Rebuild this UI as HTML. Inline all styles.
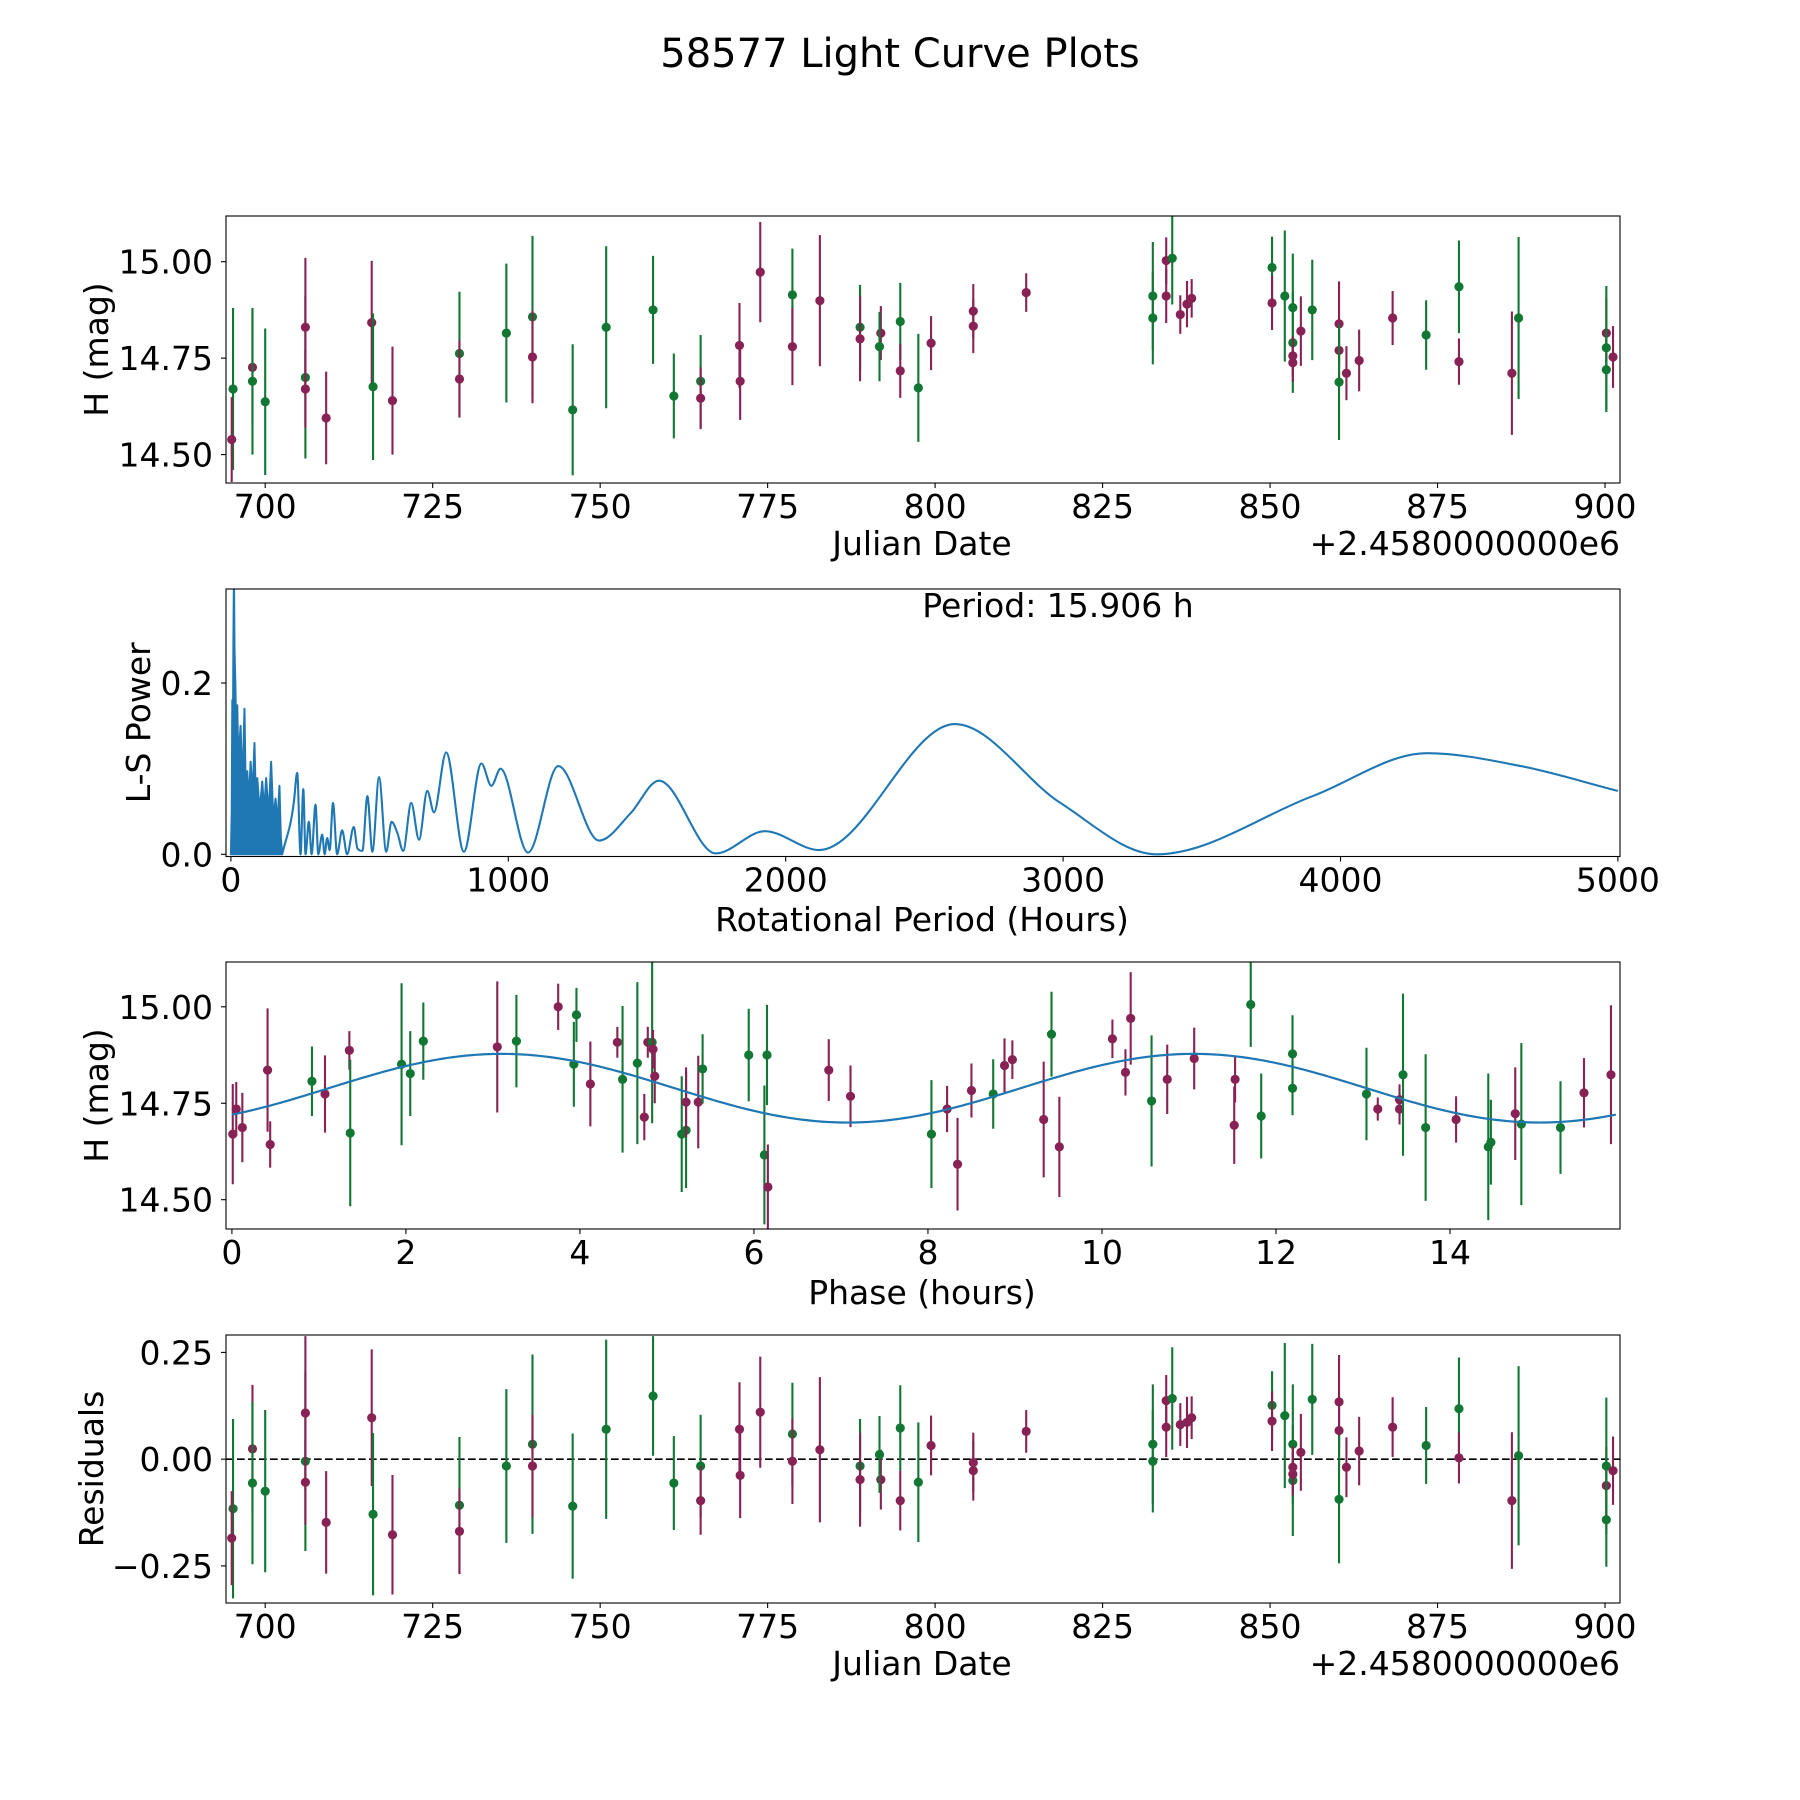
<!DOCTYPE html>
<html><head><meta charset="utf-8"><style>
html,body{margin:0;padding:0;background:#fff;}
svg{display:block;font-family:"DejaVu Sans","Liberation Sans",sans-serif;}
</style></head><body>
<svg id="fig" width="1800" height="1800" viewBox="0 0 1800 1800" xmlns="http://www.w3.org/2000/svg">
<rect width="1800" height="1800" fill="#fff"/>
<text x="900" y="67" font-size="40" text-anchor="middle">58577 Light Curve Plots</text>
</svg>
<script>
// ---------- data: light curve (Julian date offset, H mag, error, group) ----------
const dates=[695.2,695.0,698.1,698.1,700.0,706.0,706.0,706.0,709.1,715.9,716.1,719.0,729.0,729.0,736.0,739.9,739.9,745.9,750.9,757.9,761.0,765.0,765.0,770.8,770.9,773.9,778.7,778.7,782.8,788.8,788.8,791.9,791.7,794.8,794.8,797.5,799.4,805.7,805.7,813.6,832.5,832.5,834.5,834.5,835.4,836.6,837.6,838.3,850.3,850.3,852.2,853.4,853.4,853.4,853.4,854.6,856.3,860.3,860.3,860.3,861.4,863.3,868.3,873.3,878.2,878.2,886.1,887.1,900.2,900.2,900.2,901.2];
const mags=[14.670,14.539,14.726,14.690,14.637,14.700,14.670,14.830,14.595,14.842,14.676,14.640,14.762,14.696,14.815,14.857,14.753,14.616,14.830,14.875,14.652,14.690,14.646,14.783,14.690,14.973,14.914,14.780,14.899,14.830,14.800,14.815,14.780,14.845,14.717,14.673,14.789,14.872,14.833,14.920,14.911,14.854,15.003,14.911,15.009,14.863,14.890,14.905,14.985,14.893,14.911,14.881,14.790,14.756,14.738,14.820,14.875,14.839,14.770,14.688,14.711,14.744,14.854,14.810,14.935,14.741,14.711,14.854,14.815,14.777,14.720,14.753];
const errs=[0.21,0.11,0.15,0.19,0.19,0.21,0.10,0.18,0.12,0.16,0.19,0.14,0.16,0.10,0.18,0.21,0.12,0.17,0.21,0.14,0.11,0.12,0.08,0.11,0.10,0.13,0.12,0.10,0.17,0.11,0.11,0.07,0.09,0.10,0.07,0.14,0.07,0.07,0.07,0.05,0.14,0.12,0.06,0.07,0.12,0.05,0.06,0.05,0.08,0.07,0.17,0.14,0.13,0.05,0.05,0.09,0.13,0.11,0.08,0.15,0.07,0.08,0.07,0.09,0.12,0.06,0.16,0.21,0.09,0.16,0.11,0.08];
const groups="GPPGGGPPPPGPGPGGPGGGGGPPPPGPPGPPGGPGPPPPGGPPGPPPGPGGGPPPGPPGPPPGGPPGPGGP".split("");
const resid=[-0.116,-0.185,0.024,-0.056,-0.075,-0.005,-0.054,0.108,-0.148,0.097,-0.129,-0.177,-0.108,-0.169,-0.016,0.035,-0.016,-0.11,0.07,0.148,-0.056,-0.016,-0.097,0.07,-0.038,0.11,0.059,-0.005,0.022,-0.016,-0.048,-0.048,0.011,0.073,-0.097,-0.054,0.032,-0.008,-0.027,0.065,0.035,-0.005,0.137,0.075,0.142,0.081,0.086,0.097,0.126,0.089,0.102,0.035,-0.05,-0.019,-0.035,0.016,0.14,0.134,0.067,-0.094,-0.019,0.019,0.075,0.032,0.118,0.003,-0.097,0.008,-0.062,-0.016,-0.142,-0.027];
// ---------- data: phased curve ----------
const phases=[0.01,0.05,0.12,0.41,0.44,0.92,1.07,1.35,1.36,1.95,2.05,2.20,3.05,3.27,3.75,3.96,3.93,4.12,4.43,4.49,4.66,4.74,4.78,4.83,4.84,4.86,5.17,5.22,5.22,5.36,5.41,5.94,6.15,6.12,6.16,6.86,7.11,8.04,8.22,8.34,8.50,8.75,8.88,8.97,9.33,9.42,9.51,10.12,10.27,10.33,10.57,10.75,11.06,11.52,11.53,11.71,11.83,12.19,12.19,13.04,13.17,13.42,13.42,13.46,13.72,14.07,14.44,14.47,14.75,14.82,15.27,15.54,15.85];
const phaseMags=[14.67,14.735,14.687,14.836,14.643,14.807,14.774,14.887,14.673,14.851,14.827,14.911,14.896,14.911,15.0,14.979,14.851,14.80,14.908,14.812,14.854,14.714,14.908,14.908,14.89,14.82,14.67,14.68,14.753,14.753,14.839,14.875,14.875,14.616,14.533,14.836,14.768,14.67,14.735,14.592,14.783,14.774,14.848,14.863,14.708,14.929,14.637,14.917,14.83,14.97,14.756,14.812,14.866,14.693,14.812,15.006,14.717,14.878,14.789,14.774,14.735,14.759,14.735,14.824,14.687,14.708,14.637,14.649,14.723,14.696,14.687,14.777,14.824];
const phaseErrs=[0.13,0.07,0.09,0.16,0.06,0.09,0.10,0.05,0.19,0.21,0.11,0.10,0.17,0.12,0.06,0.07,0.11,0.11,0.04,0.19,0.21,0.06,0.04,0.21,0.05,0.07,0.15,0.15,0.09,0.12,0.09,0.12,0.13,0.18,0.11,0.08,0.08,0.14,0.06,0.12,0.07,0.09,0.07,0.05,0.15,0.11,0.13,0.05,0.06,0.12,0.17,0.09,0.08,0.10,0.06,0.11,0.11,0.10,0.07,0.12,0.03,0.04,0.04,0.21,0.19,0.06,0.19,0.11,0.12,0.21,0.12,0.09,0.18];
const phaseGroups="PPPPPGPPGGGGPGPGGPPGGPPGPPGGPPGGGGPPPGPPPGPPPGPPPPGPPPPGGGGGPPPGGPGGPGGPP".split("");
// model: mean, amplitude, peak phase, model period (h)
const modelParams=[14.789,0.089,3.1,7.953];
// ---------- data: Lomb-Scargle periodogram ----------
const denseP=[0,3,5,7,9,11,13,16,20,23,27,31,35,40,45,49,53,59,65,71,78,85,90,95,104,113,120,127,136,145,153,161,168,175,180,185];
const densePow=[0,0.05,0.18,0.12,0.25,0.33,0.24,0.20,0.13,0.174,0.10,0.13,0.15,0.09,0.12,0.17,0.08,0.097,0.06,0.108,0.07,0.13,0.06,0.089,0.05,0.085,0.05,0.089,0.045,0.108,0.04,0.065,0.035,0.08,0.02,0.0];
const lsP=[185,227,239,251,261,269,281,291,305,315,329,338,347,356,368,383,401,419,443,456,474,492,510,534,560,579,600,621,650,678,708,732,776,840,903,939,972,1071,1180,1327,1441,1543,1748,1925,2120,2610,2990,3336,3900,4311,4650,5000];
const lsPow=[0,0.061,0.095,0,0.076,0,0.038,0,0.058,0,0.023,0,0.019,0.005,0.06,0,0.028,0,0.032,0.007,0.004,0.068,0.003,0.09,0.003,0.038,0.025,0.004,0.06,0.017,0.074,0.049,0.119,0.003,0.106,0.08,0.1,0.002,0.103,0.016,0.048,0.086,0.001,0.027,0.005,0.152,0.06,0.0,0.068,0.118,0.103,0.074];
const periodText=["Period: 15.906 h"];
// tick labels
const jdTicks=[700,725,750,775,800,825,850,875,900];
const magTicks=[14.50,14.75,15.00];
const powTicks=[0.0,0.2];
const perTicks=[0,1000,2000,3000,4000,5000];
const phTicks=[0,2,4,6,8,10,12,14];
const resTicks=[-0.25,0,0.25];

const NS="http://www.w3.org/2000/svg";
const svg=document.getElementById('fig');
const GREEN="#117733", PURPLE="#882255", BLUE="#1f77b4";
const FS=33;
function el(tag,attrs,parent){const e=document.createElementNS(NS,tag);for(const k in attrs)e.setAttribute(k,attrs[k]);(parent||svg).appendChild(e);return e;}
function lin(d0,d1,p0,p1){return v=>p0+(v-d0)*(p1-p0)/(d1-d0);}
function fmt(v,dp){let s=v.toFixed(dp);return s.replace('-','\u2212');}

function makeAxes(name,box,sx,sy,xt,xdp,yt,ydp){
  const g=el('g',{});
  
  
  const cid='clip-'+name;
  const cp=el('clipPath',{id:cid},g);
  el('rect',{x:box.l,y:box.t,width:box.r-box.l,height:box.b-box.t},cp);
  xt.forEach(v=>{const x=sx(v);
    const t=el('line',{x1:x,x2:x,y1:box.b,y2:box.b+5,stroke:'#000','stroke-width':1.1},g);
    
    
    const lb=el('text',{x:x,y:box.b+35,'font-size':FS,'text-anchor':'middle'},g);lb.textContent=fmt(v,xdp);
    
    });
  yt.forEach(v=>{const y=sy(v);
    const t=el('line',{x1:box.l-5,x2:box.l,y1:y,y2:y,stroke:'#000','stroke-width':1.1},g);
    
    
    const lb=el('text',{x:213,y:y+12,'font-size':FS,'text-anchor':'end'},g);lb.textContent=fmt(v,ydp);
    
    });
  const plot=el('g',{'clip-path':'url(#'+cid+')'},g);
  return {g,plot,frame:()=>{const f=el('rect',{x:box.l,y:box.t,width:box.r-box.l,height:box.b-box.t,fill:'none',stroke:'#000','stroke-width':1.1},g);
    
    }};
}
function errPoint(plot,x,y,yl,yh,color,name){
  const ln=el('line',{x1:x,x2:x,y1:yl,y2:yh,stroke:color,'stroke-width':2.1},plot);
  
  
  const c=el('circle',{cx:x,cy:y,r:4.6,fill:color},plot);
  
  
}
function label(txt,x,y,rot,name){
  const t=el('text',{x:x,y:y,'font-size':FS,'text-anchor':'middle'});
  if(rot)t.setAttribute('transform','rotate(-90 '+x+' '+y+')');
  t.textContent=txt;
  
  
}

// ----- Panel 1: light curve -----
const b1={l:226,r:1620,t:216,b:483};
const sxJ=lin(700,900,265.2,1605), sy1=lin(14.5,15.0,454.6,261.7);
const a1=makeAxes('light-curve-axes',b1,sxJ,sy1,jdTicks,0,magTicks,2);
dates.forEach((d,i)=>{const c=groups[i]==='G'?GREEN:PURPLE;
  errPoint(a1.plot,sxJ(d),sy1(mags[i]),sy1(mags[i]-errs[i]),sy1(mags[i]+errs[i]),c,'light-curve-point');});
a1.frame();
label('H (mag)',108,(b1.t+b1.b)/2,true,'light-curve-y-axis-title');
label('Julian Date',922,555,false,'light-curve-x-axis-title');
let off=el('text',{x:1620,y:555,'font-size':FS,'text-anchor':'end'});off.textContent='+2.4580000000e6';



// ----- Panel 2: periodogram -----
const b2={l:226,r:1620,t:589,b:856.5};
const sxP=lin(0,1000,230.9,508.3), syP=lin(0,0.2,854.3,683);
const a2=makeAxes('periodogram-axes',b2,sxP,syP,perTicks,0,powTicks,1);
let dd='M'+sxP(denseP[0])+','+syP(0);
denseP.forEach((p,i)=>{dd+=' L'+sxP(p).toFixed(2)+','+syP(densePow[i]).toFixed(2);});
dd+=' L'+sxP(denseP[denseP.length-1])+','+syP(0)+' Z';
const dense=el('path',{d:dd,fill:BLUE,stroke:BLUE,'stroke-width':2,'stroke-linejoin':'round'},a2.plot);


(function(){
  const X=lsP.map(sxP), Y=lsPow.map(syP), n=X.length;
  const dlt=[],m=[];
  for(let i=0;i<n-1;i++)dlt.push((Y[i+1]-Y[i])/(X[i+1]-X[i]));
  for(let i=0;i<n;i++){
    if(i===0)m.push(dlt[0]);else if(i===n-1)m.push(dlt[n-2]);
    else if(dlt[i-1]*dlt[i]<=0)m.push(0);
    else{const w1=X[i+1]-X[i], w0=X[i]-X[i-1];m.push((dlt[i-1]*w1+dlt[i]*w0)/(w0+w1));}
  }
  for(let i=0;i<n-1;i++){if(dlt[i]===0){m[i]=0;m[i+1]=0;continue;}
    const a=m[i]/dlt[i],b=m[i+1]/dlt[i],s=a*a+b*b;if(s>9){const t=3/Math.sqrt(s);m[i]=t*a*dlt[i];m[i+1]=t*b*dlt[i];}}
  let d='M'+X[0].toFixed(2)+','+Y[0].toFixed(2);
  for(let i=0;i<n-1;i++){const h=(X[i+1]-X[i])/3;
    d+=' C'+(X[i]+h).toFixed(2)+','+(Y[i]+m[i]*h).toFixed(2)+' '+(X[i+1]-h).toFixed(2)+','+(Y[i+1]-m[i+1]*h).toFixed(2)+' '+X[i+1].toFixed(2)+','+Y[i+1].toFixed(2);}
  const p=el('path',{d:d,fill:'none',stroke:BLUE,'stroke-width':2.1,'stroke-linejoin':'round'},a2.plot);
  
  
})();
a2.frame();
let pt=el('text',{x:1058,y:617,'font-size':FS,'text-anchor':'middle'});pt.textContent=periodText[0];


label('L-S Power',150,(b2.t+b2.b)/2,true,'periodogram-y-axis-title');
label('Rotational Period (Hours)',922,931,false,'periodogram-x-axis-title');

// ----- Panel 3: phased -----
const b3={l:226,r:1620,t:962,b:1229};
const sxH=lin(0,14,231.9,1450), sy3=lin(14.5,15.0,1199.7,1006.8);
const a3=makeAxes('phase-axes',b3,sxH,sy3,phTicks,0,magTicks,2);
phases.forEach((p,i)=>{const c=phaseGroups[i]==='G'?GREEN:PURPLE;
  errPoint(a3.plot,sxH(p),sy3(phaseMags[i]),sy3(phaseMags[i]-phaseErrs[i]),sy3(phaseMags[i]+phaseErrs[i]),c,'phase-point');});
(function(){let d='';for(let k=0;k<=400;k++){const ph=15.906*k/400;
  const m=modelParams[0]+modelParams[1]*Math.cos(2*Math.PI*(ph-modelParams[2])/modelParams[3]);
  d+=(k?' L':'M')+sxH(ph).toFixed(2)+','+sy3(m).toFixed(2);}
  const p=el('path',{d:d,fill:'none',stroke:BLUE,'stroke-width':2.2},a3.plot);
  
  })();
a3.frame();
label('H (mag)',108,(b3.t+b3.b)/2,true,'phase-y-axis-title');
label('Phase (hours)',922,1304,false,'phase-x-axis-title');

// ----- Panel 4: residuals -----
const b4={l:226,r:1620,t:1335,b:1603};
const sy4=lin(-0.25,0.25,1565.9,1352.4);
const a4=makeAxes('residuals-axes',b4,sxJ,sy4,jdTicks,0,resTicks,2);
const zl=el('line',{x1:b4.l,x2:b4.r,y1:sy4(0),y2:sy4(0),stroke:'#000','stroke-width':1.6,'stroke-dasharray':'7.7,3.3'},a4.plot);


dates.forEach((d,i)=>{const c=groups[i]==='G'?GREEN:PURPLE;
  errPoint(a4.plot,sxJ(d),sy4(resid[i]),sy4(resid[i]-errs[i]),sy4(resid[i]+errs[i]),c,'residual-point');});
a4.frame();
label('Residuals',103,(b4.t+b4.b)/2,true,'residuals-y-axis-title');
label('Julian Date',922,1675,false,'residuals-x-axis-title');
off=el('text',{x:1620,y:1675,'font-size':FS,'text-anchor':'end'});off.textContent='+2.4580000000e6';


</script>
</body></html>
